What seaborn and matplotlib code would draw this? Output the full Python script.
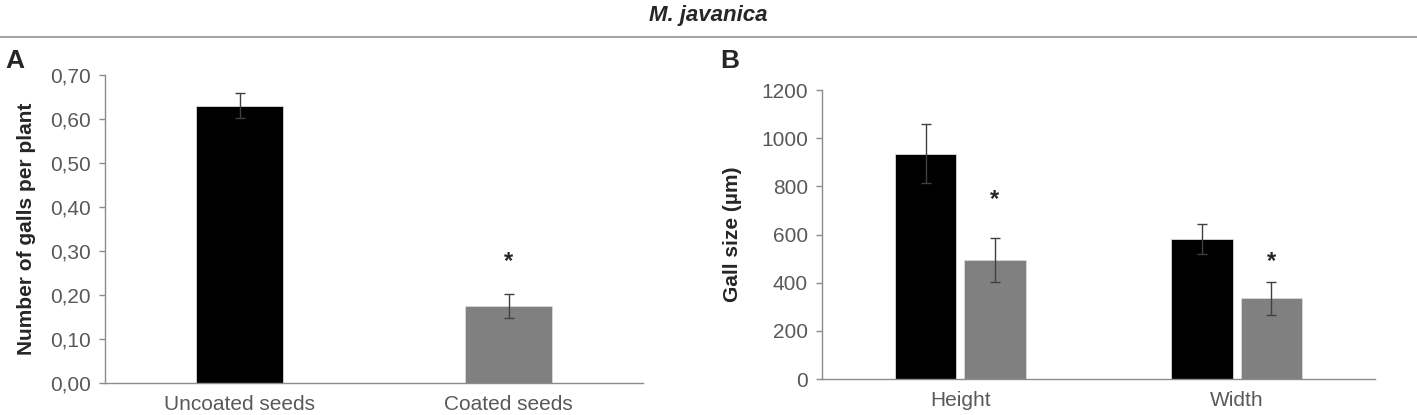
import numpy as np
import pandas as pd
import matplotlib
matplotlib.use("Agg")
import matplotlib.pyplot as plt
from matplotlib.lines import Line2D
import seaborn as sns

# Panel A data: galls per plant
seed_types = ["Uncoated seeds", "Coated seeds"]
galls_mean = [0.63, 0.175]
galls_err = [0.028, 0.028]
galls_star = [None, 0.275]

# Panel B data: gall size (um)
dimensions = ["Height", "Width"]
size_uncoated = [935, 582]
size_coated = [495, 335]
err_uncoated = [122, 63]
err_coated = [92, 68]
size_star = [None, None, 745, 488]  # patch order: uncoated H, uncoated W, coated H, coated W

sns.set_style("white")
plt.rcParams["font.family"] = ["Liberation Sans", "DejaVu Sans"]

tick_grey = "#595959"
spine_grey = "#8c8c8c"
bar_cols = ["#000000", "#808080"]

fig = plt.figure(figsize=(14.17, 4.15), dpi=100)

# title and separator line
fig.text(0.5, 0.962, "M. javanica", ha="center", va="center",
         fontsize=16, fontweight="bold", fontstyle="italic")
fig.add_artist(Line2D([0.0, 1.0], [0.911, 0.911], color="#a6a6a6", lw=1.5))
fig.text(0.004, 0.852, "A", fontsize=19, fontweight="bold", va="center")
fig.text(0.508, 0.852, "B", fontsize=19, fontweight="bold", va="center")


def style_axis(ax):
    sns.despine(ax=ax)
    for s in ["left", "bottom"]:
        ax.spines[s].set_color(spine_grey)
        ax.spines[s].set_linewidth(1.0)
    ax.tick_params(axis="y", which="both", left=True, length=4, width=1,
                   color=spine_grey, labelcolor=tick_grey, labelsize=15, pad=6)
    ax.tick_params(axis="x", bottom=False, labelcolor=tick_grey, labelsize=15, pad=5)
    ax.set_xlabel("")
    ax.set_xlim(-0.5, 1.5)


# ---- Panel A ----
axA = fig.add_axes([0.0741, 0.0771, 0.3797, 0.7422])
dfA = pd.DataFrame({"seed": seed_types, "galls": galls_mean})
sns.barplot(data=dfA, x="seed", y="galls", hue="seed", palette=bar_cols,
            width=0.32, errorbar=None, legend=False, ax=axA,
            edgecolor="#d9d9d9", linewidth=0.6)
for p, e, st in zip(axA.patches, galls_err, galls_star):
    cx = p.get_x() + p.get_width() / 2
    axA.errorbar(cx, p.get_height(), yerr=e, color="#404040", lw=1,
                 capsize=3.5, capthick=1)
    if st is not None:
        axA.text(cx, st, "*", ha="center", va="center", fontsize=17, fontweight="bold")
axA.set_ylim(0, 0.70)
axA.set_yticks(np.arange(0, 0.71, 0.10))
axA.set_yticklabels([f"{v:.2f}".replace(".", ",") for v in np.arange(0, 0.71, 0.10)])
axA.set_ylabel("Number of galls per plant", fontsize=15, fontweight="bold", labelpad=10)
style_axis(axA)

# ---- Panel B ----
axB = fig.add_axes([0.5801, 0.0867, 0.3903, 0.6964])
dfB = pd.DataFrame({
    "dim": dimensions * 2,
    "size": size_uncoated + size_coated,
    "seed": [seed_types[0]] * 2 + [seed_types[1]] * 2,
})
sns.barplot(data=dfB, x="dim", y="size", hue="seed", palette=bar_cols,
            width=0.5, gap=0.11, errorbar=None, legend=False, ax=axB,
            edgecolor="#d9d9d9", linewidth=0.6)
errs_b = err_uncoated + err_coated
for p, e, st in zip(axB.patches, errs_b, size_star):
    cx = p.get_x() + p.get_width() / 2
    axB.errorbar(cx, p.get_height(), yerr=e, color="#404040", lw=1,
                 capsize=3.5, capthick=1)
    if st is not None:
        axB.text(cx, st, "*", ha="center", va="center", fontsize=17, fontweight="bold")
axB.set_ylim(0, 1200)
axB.set_yticks(np.arange(0, 1201, 200))
axB.set_ylabel("Gall size (µm)", fontsize=15, fontweight="bold", labelpad=14)
style_axis(axB)

fig.savefig("out.png", dpi=100)
